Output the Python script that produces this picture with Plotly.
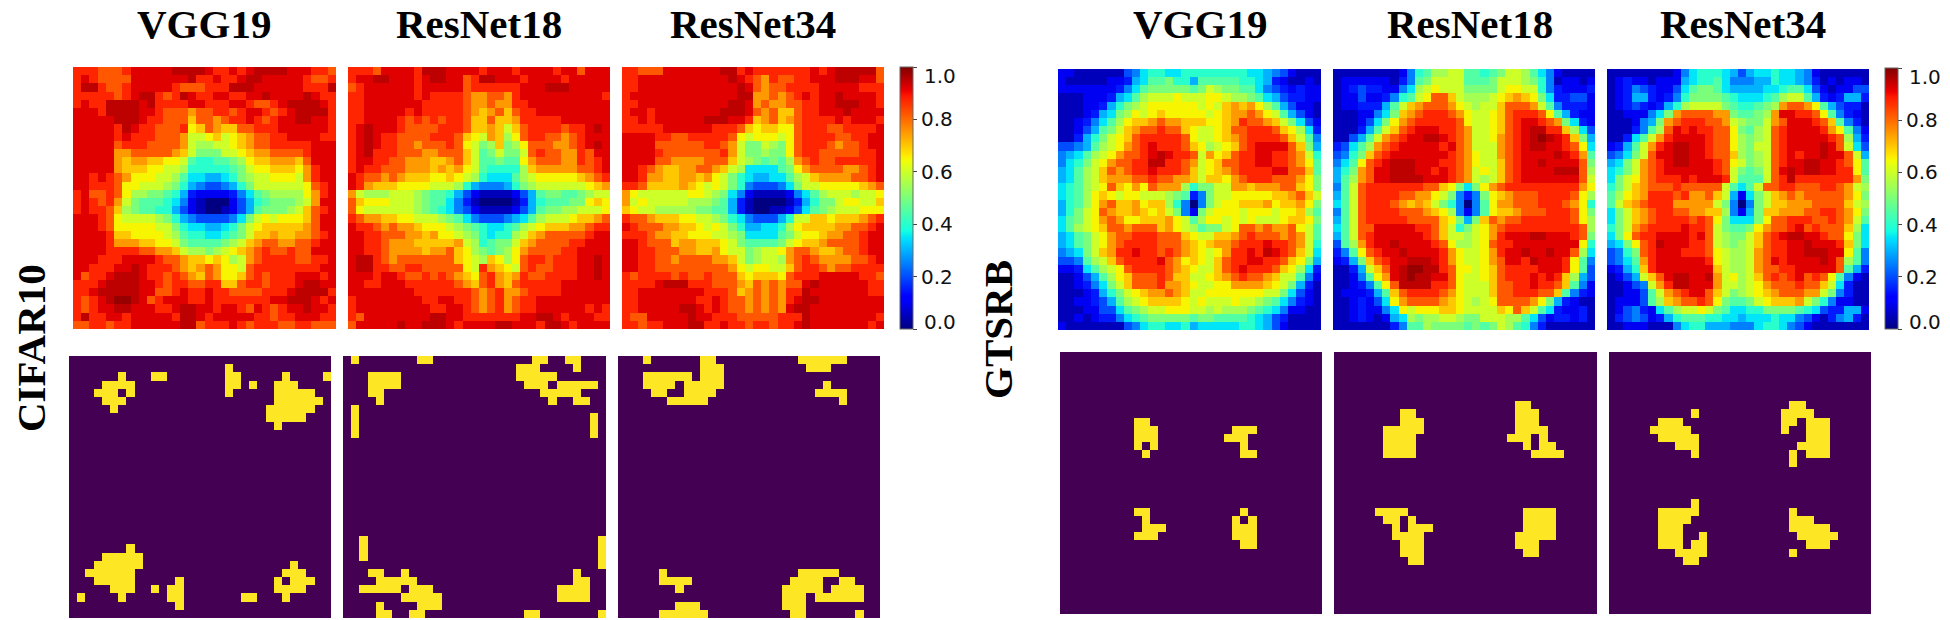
import plotly.graph_objects as go

# heat levels, a = deep blue ... u = darkest red
LEVELS = "abcdefghijklmnopqrstu"
LEVEL_VALUES = [0.0, 0.05, 0.1, 0.15, 0.2, 0.25, 0.3, 0.35, 0.4, 0.45, 0.5, 0.55, 0.6, 0.65, 0.7, 0.75,
                0.82, 0.875, 0.92, 0.95, 0.98]

CIFAR_VGG19 = [
    "rrrqqqrs sssstttt srrsrstt ttsssrrq", "rsrqqqqs sssssstr rsrrstts ssssrqqr",
    "rttrqqrs ssssrqqq rrrtttss ssssrrrt", "rrrrrqrs ttrqrtsr rssrrsst sssstsrr",
    "rsrrtttt strrrrss rrrssrqq rsttttsr", "sssrtttt ssrqqqpq qrrqrssr qrsttttr",
    "sssssttt srrqqqoq qpqrrsrq rssttssr", "sssssrts rrqqqrno qpooqqrr rssssssr",
    "sssssrsr rrqqqpmm nomnopqq rrssssrr", "sssssqrr rqqqqpml lmmnopqq rrrrrsss",
    "sssssppq qqqqpomk kkmmnopp qqqqrsss", "ssssspop poonnmji ijjklnoo pppoqsss",
    "ssssspoo onnmmlii iiijkmnn ooonprss", "ssrsrqpn nnmmljhh gghiklmm nnnmprss",
    "ssrrrqnn mmmlkigf eefgikmm mmmmnqrs", "rsqqrqnl lkkjigdc cccdfhjk llllnprs",
    "rsrqrpmk jjjihfcb aaacegij kkklmpss", "rsrrqolk jjiigecb aabcegjk kklmoqrs",
    "sssrqnmm mmlkigfe eeefhkmn mnnnoqss", "sssrqnnn nnmmkihh gghikmno oooopqss",
    "ssssroon nnnmljii hhijkmoo pooppqrs", "ssssrppp oonnmkjj jjklmopq qppqqrss",
    "ssssrrrr qqppomll klmnopqr qqrqqsss", "sssrrrss ssrqqpoo nonlmpqr rrrqqrrs",
    "ssrrrsst srrrqpop qpnnmqrr rrrrrrss", "sqrrsttt srrqrqpo qpnnoqrq rrrsssrs",
    "rrrstttt ssrqrrqq rrooqrrq rrrsttss", "rrsttttt ssqqrsrr srrqqqqr rrsttttr",
    "rqrstuut sqrsssrr srrrrrrr sstttsrs", "rqrsstts ssrrstts srssrqsr qrsstssr",
    "rtrrssrs ssssrtts rsssssrr qrrsssrr", "qqrrqrrs sssssttq rrrsrqrr rqqrrqqq",
]
CIFAR_RESNET18 = [
    "rrrqssss rtttssss rsssrsss srssqsss", "rssttsss rsttssqr ttsssrss ssrsssss",
    "qrssssss rsssssqr rrrrrsss tttsssss", "rrssssss rsrrrrqp pqqprsss sssssssr",
    "rrssssss srrrrrqp pqpprrss ssssssss", "rrsssssr srrrrrqp opqoqrrs ssssssss",
    "rrssssrq rqrqrrqo oqooprrr rrssssss", "rstsssrq qqqrrrqo opomoqrr rrqrrsts",
    "rstsrrqq qqrrrqon mpolnqrr qqpqrsss", "rstsrrqq pqqqrqnm kloklnqq qppqrsts",
    "rstrrrqq qppqqqom jkmkkmqr qqpprqss", "rssrrqqp ppoopqom jjkjjnpq qqpprqrs",
    "rsrrqqqp ppopopnm jiiiilop ppppqqrs", "srqqpqpo oonnonml ihhhjlmn nnnnopqr",
    "srpooonn nnmmmlig fffgiklm mmmmmnop", "pmlllmmm lkjjigec bbbbcegj kkjjklmm",
    "qonnnmmm lkjjhfdb aaaabdgi jjjkknon", "qnmmmmmm lkjihfec bbbbcegj kkllmmmn",
    "rqppoonn mmmlkjhf eeefghjl mmmnoopq", "srrqpqpp onnnmlkj ihhijlmn oooppqrr",
    "ssrrqqqp popnnmlk ihiilmop qqqqqrss", "ssrrqppp ooooopml ijkkmopq qqqrrsss",
    "ssrrqppp poppqonl kjklnpqq qqrrssss", "sttrqpqq qqqqqonm lonlnqrr qrrrssts",
    "sttrrqqr rqqqqqnm rponmqrq qrrrssts", "sssrssrq qrqrqpon qrpoprqq rrrrssts",
    "ssrrsssr rrrrrqpo qrpoqrrr rrssssss", "ssssssss rrrrrrrq pqrppqrr rrssssss",
    "rsssssss srrssrrq pqrpqrrs ssssssss", "rsssssss ssrrssrq pqrpqrrs sssssrsr",
    "rqssssss ssttssrr rrrrrsst tsrsssrr", "qsssssts stttsrss ssttsssr ttsrssss",
]
CIFAR_RESNET34 = [
    "rrqqqsss ssssttrs rrrrrrrs rstttttq", "rrssssss ssssstsr qprqqrrs sstttssq",
    "rrssssss ssssssts qpqqrrrr sssssrrr", "rsssssss sssssstt ppqpqrsr sstssssr",
    "rrssssss ssssstts pqppqqrr sstttssr", "rssrssss ssssttts qpqooqrr ssstssss",
    "rrsrssss sstttssr opqopqrr rrsrsssr", "rrrrrsss sssrrrqo noonnqrr rqqrrrrs",
    "ssssrrqq rrrrrqnm nnnmnqrr rrqqrrss", "ssssqqqq qqrrqpmk kmlknqrr rqpqqrss",
    "ssssrqqq qqqqrpmk klkknqrr qqqqqrrs", "ssssqqpp ppqqqoml kjkjlpqr qqrrrrrs",
    "ssrqpoop pqqpomlh hhhjknpq qqqppqrs", "ssrppoop popnmkih gghhjlmo ppppqqrs",
    "rrqoooop onmnmkif eeefhkmm nnnnnopq", "pnmmmmmm nnmlkhfc bbbbcfhj lmmmlmmn",
    "pmnmmmmm lllkjgdb aaaabdgi kkmnnmmo", "onmmllll lkkjjgdb aabbcehj klmmmnnn",
    "rqqpooon nmmlkihf eeegimmo onooopqr", "srqqqppo onmnmkig ghhilnoo ooppqqrs",
    "rrrqppoo nnnmmlkh hhhjkmnn oppqqrss", "ssrqqqop pooonmkj jjjkmnoo pqqqqrss",
    "ssrrqqqp poopnmmk lmmnpqqp oopqqrss", "ssrrqqpq qqqppomk lmmlpqrq ppppqqrs",
    "ssrrqqqq qqqqqpnm nnmmoqrr qpqqrrrr", "rqrrrrqr qqrqqqon ooonqrrr sssssrrq",
    "rrrrsttt rrrqqqpo qpqpqqst ssssssrr", "rrssssss ssrrrqop qpqprrts ssssssrr",
    "rrssssss srrsrqqp qpqprstt ssssssss", "rrssssst tsrsrqqp qpqpstts ssssssss",
    "rqqsssss tssrrrqq qqqrrrts sssssssr", "rrqrrsss ttrrsrrq rrqrrsts ssssssrs",
]
GTSRB_VGG19 = [
    "ccbbbbbb efhiihhi iiiiiiih hgfecbbb", "cbbbbbcc dghjjkii gjjjjjii hgdcbbcb",
    "cccccccd fhjkkkkk jkmlkkjj hfedcdcc", "bbbcccdg hjlmmmnm mmnnmllk jhgeddcc",
    "bbbccdgi klmnnnnn nmnmopop nljgeccb", "bbbcdghk lnmnonnn nnmnoppq pnmjgecb",
    "bbcdfhjl noopqppo oonnoprq qpomkhec", "bbcegjkm opqqrqqo nmmnoqqr rrqonlhd",
    "bbdgikmn oqrrrrrq nmmnopqr rrrqomjf", "eefgjlmn pqrsrrrq onlmnoqr ssssqokg",
    "fghjlmnp qqrstsrr qmpnoqrr ssrrqpmi", "fhikmnpq qrrttrrq pmnoqqrr ssrrqpnj",
    "ghjlmoqp qrrsrrrq omnopqrr rrssqqoj", "ghjlmopp pqqrqqpp omoonpqr rrqqqpnk",
    "hijlmnqo npnqpppl ikkmmppo pppqqonk", "hijlnonm nnmmmlkj dfkmmnnn nnoopqom",
    "gijlnpqo opnoolif afkmnnoo opnoopnk", "gikmnqpo oponomkf ckmnnnmn nnmnnolj",
    "hjkmnpqp nnooopnm jlnnmnmn mmmnoonk", "hjlmnoqq pqqqopnm ljkkmnqq pqppqnmj",
    "ghjkmnpq qrrrqqqo nmmoopqr qqqpqpmj", "ghjkmnpq rrrrqqqp onoppqrr rsrrqpmi",
    "fghkmopr rsrrqrqp onmnprrs rtsrqomh", "eefjlmoq rrrrsqpn onmoqrrs srrqonkg",
    "ccdhjlmn qrrrrqpo nmmoqrsr rrqonlhd", "bbcegjln oqqqrqoo mmnopqrq qpommjfc",
    "bbcdfhkm oqqqrppo nmmnnppp ponmkgdb", "bbbcdgik mnoppqpo mmnnnnnn nmmkhecb",
    "bbccdegj lmnoooon mnmmmnmm lkjhfdcb", "bbbcceeh jklmmnnn mmlmlllk jihfccbb",
    "bbcbcddf hijkkkkk jkkjjjji hgedbbbb", "cbbbbbbb efhiihhi ghhhhhii hgecbbbb",
]
GTSRB_RESNET18 = [
    "bbbbbbbb cfijllmm jjijkmml jhfcbbbb", "bccccccb dfjkmmmm jjjkmmml kifbccbc",
    "bcdeddcc fhlmnmmm kkkkmnnm mifdcccd", "bcceccdf ijmnqqom lllmnopo nkhddeec",
    "bccdddgj mopqqqpn mlmmoqqq pmjfdddc", "bbbccfhk opqrrrqp nmmnoqrr rqnjgdcc",
    "bbbcehkn pqrrrrrq nmmnoqrs srqpkhdc", "bbbdgjmo qrsssrrq pmmnoqrs ttrrolhe",
    "bbegjmpq rssttsrq pmmnpqrs tutsrokg", "dehjlpqr sssssrsq pmmmpqrs ttssrqnh",
    "efikoqrs ssssssrq pnmmpqrs ssstsrpj", "fhjnqrst ttsssrrq pnmmoqrs stssssqk",
    "gikpqsst ttssrsrq pmnmoqrs ssstttql", "gjlpqsst tttsssrq pmlmoqrs ssssssqm",
    "fjmqrrrr rrrqqonk hknpqrrr rrrrrrpn", "gjmqrrrr qqppnmkf dfknopqq qrrrrqnl",
    "hjmqrrrq popomkif afjnppqq qrrrqpni", "fjmqrrrr qqqponlf cfjnoopq qqrrrqnk",
    "gjmqrrrr rqqqqonk gkoqpqqr rrrrrqnl", "hjmqqsss ssrrqomi kmnpqrrr rrrrrrql",
    "gjmqrsss sssrqomm lmnprsss ttsssrqk", "ejlprsst ssssrqnl lmnqrrss ssssssni",
    "dfjnqrss tssssrpn mmnprsst sstssqlh", "cdgkoqrs stttsrpn mmnpqssr tsssrnjf",
    "bbdgmoqs tuuttrqn nmnoqrrr rsssrnje", "bbcfjnps tuttssqn mmnoqrrr srsrolge",
    "bbcdfjnq ttttrrqn mmmoqqrr srrqojfc", "bcccdgjo qrrrrqpn mmmoqqrr rqqojfdc",
    "bbcdcehn pqqqqpon mlmnqqqq pnkgdcbb", "bbcdccfh nmnnnoon mmmmonqo mjhdccdb",
    "bbcdcbcg hlkllmml kkmmmllj hecddcdb", "bbbbbbbd fjjlkkkk jkjkmlji fdbbbbbb",
]
GTSRB_RESNET34 = [
    "bbbbbbbb cfhiiihg eghhihhg fcbbbbbb", "bcdccbcc cghiijhf ffggihhg fdbcbccb",
    "bcdfedcc ehjkkjhg ggghhijj hecbccee", "bcdggdcd fikkkkji hhhijlmm jgdcdggd",
    "bcdedcdg ilmmmmkj iijklpqq pnjgeddb", "bbcccfhk pqqqqppk jjklpssr rqnjfdcb",
    "bbbcfgkp qrrrqqpm lkkmpqss srqojfdb", "bbbdfjlq srsrrqqn kjlmqrss ssrpnjfc",
    "bbdhjmpr ssssrqqn lklmqrss sssrqlgd", "cdgjmprs ttssrqqn lkmmqrss sstsqmhe",
    "efhkmqss ttssrqqo lklmqrsr sstssqmg", "ghkmpqrs ttsssrqn mklmqrss ttssrqnj",
    "hikmpqrs sssssrqm kjkmqsts ttssrrnj", "hkmnpqrr rsrsssrm jjjmqrtr rrrrrrpk",
    "ikmopqqq rqqqqqmj hjmqqrrq qqrrqpml", "jlnoprrr qrppqomg chkmopqp qqqqqpnk",
    "jmopqrrr pppppmkf afkmoopp pqqqqoml", "hkmopqrr qqppoolf cgkooppp qqrrqpnk",
    "hkmopqrr rrqrqnkh hhknqqrr rqqrqpmj", "ikmpqrrr rsrrqmkj jknpqqrs qrqqqolh",
    "hknqrrss ssrsqmlk kmoqrstt ssrqqnkh", "ghknqrts ssrrqmlk lmoqrrss tsssrokh",
    "efikqrss srrrqnml lmpqrrss tttssnjf", "efhjprss ssssrnml lmpqsrss sstsqljf",
    "cdgiorss sssssoml lmpqqrrs ssssqjgd", "bcegmoqs ttsstpmn lmoqrqrs qrqnjfcb",
    "bbcefmpr ttssspmm lmnpqqqr qqomhdbb", "bbccejmp qrssqomk lmnopqqq ppmkfdbb",
    "bcccejlo pqqrqnkj jkmnooop mkifccbb", "bcefdchj lmmnmkjh hiikkkkj iheddggc",
    "bdefecdg ijjjiihh ghhhihhf ecbdfgdb", "bbcccbbb fhiigggf ffhiihfe cbbbbbbb",
]

# trigger masks, row -> yellow columns
MASK_CIFAR_VGG19 = {
    1: [19], 2: [6, 10, 11, 19, 20, 26, 31], 3: [4, 5, 6, 7, 19, 20, 22, 25, 26, 27],
    4: [3, 4, 5, 7, 19, 25, 26, 27, 28, 29], 5: [4, 5, 6, 25, 26, 27, 28, 29, 30],
    6: [5, 24, 25, 26, 27, 28, 29], 7: [24, 25, 26, 27, 28], 8: [25],
    23: [7], 24: [4, 5, 6, 7, 8], 25: [3, 4, 5, 6, 7, 8, 27],
    26: [2, 3, 4, 5, 6, 7, 26, 27, 28], 27: [3, 4, 5, 6, 7, 13, 25, 27, 28, 29],
    28: [5, 6, 7, 10, 12, 13, 25, 26, 27, 28], 29: [1, 6, 12, 13, 21, 22, 26], 30: [13],
}
MASK_CIFAR_RESNET18 = {
    0: [1, 9, 10, 23, 24, 27, 28], 1: [21, 22, 23, 28],
    2: [3, 4, 5, 6, 21, 22, 23, 24, 25], 3: [3, 4, 5, 6, 22, 23, 24, 26, 27, 28, 29, 30],
    4: [3, 4, 24, 25, 26, 27, 28], 5: [4, 25, 28, 29], 6: [1], 7: [1, 30], 8: [1, 30], 9: [1, 30],
    22: [2, 31], 23: [2, 31], 24: [2, 31], 25: [31], 26: [3, 4, 7, 28],
    27: [4, 5, 6, 7, 8, 28, 29], 28: [2, 3, 4, 5, 6, 8, 9, 10, 26, 27, 28, 29],
    29: [7, 8, 9, 10, 11, 26, 27, 28, 29], 30: [4, 9, 10, 11], 31: [4, 5, 8, 9, 22, 23, 31],
}
MASK_CIFAR_RESNET34 = {
    0: [3, 10, 11, 22, 23, 24, 25, 26, 27], 1: [10, 11, 12, 23, 24, 25],
    2: [3, 4, 5, 6, 7, 8, 10, 11, 12], 3: [3, 4, 5, 6, 8, 9, 10, 11, 12, 25],
    4: [4, 5, 8, 9, 10, 11, 24, 25, 26, 27], 5: [6, 7, 8, 9, 10, 27],
    26: [5, 22, 23, 24, 25, 26], 27: [5, 6, 7, 8, 21, 22, 23, 24, 27, 28],
    28: [7, 20, 21, 22, 23, 24, 26, 27, 28, 29], 29: [20, 21, 22, 24, 25, 26, 27, 28, 29],
    30: [7, 8, 9, 20, 21, 22], 31: [5, 6, 7, 8, 9, 10, 21, 22, 29],
}
MASK_GTSRB_VGG19 = {
    8: [9, 10], 9: [9, 10, 11, 21, 22, 23], 10: [9, 10, 11, 20, 21, 22], 11: [9, 11, 22],
    12: [10, 22, 23], 19: [9, 10, 22], 20: [10, 21, 23], 21: [10, 11, 12, 21, 22, 23],
    22: [9, 10, 11, 21, 22, 23], 23: [22, 23],
}
MASK_GTSRB_RESNET18 = {
    6: [22, 23], 7: [8, 9, 22, 23, 24], 8: [8, 9, 10, 22, 23, 24],
    9: [6, 7, 8, 9, 10, 22, 23, 24, 25], 10: [6, 7, 8, 9, 21, 22, 23, 25],
    11: [6, 7, 8, 9, 23, 25, 26], 12: [6, 7, 8, 9, 24, 25, 26, 27],
    19: [5, 6, 7, 8, 23, 24, 25, 26], 20: [6, 7, 9, 23, 24, 25, 26],
    21: [7, 9, 10, 11, 23, 24, 25, 26], 22: [7, 8, 9, 10, 22, 23, 24, 25, 26],
    23: [8, 9, 10, 22, 23, 24], 24: [8, 9, 10, 23, 24], 25: [9, 10],
}
MASK_GTSRB_RESNET34 = {
    6: [22, 23], 7: [10, 21, 22, 23, 24], 8: [6, 7, 8, 21, 22, 24, 25, 26],
    9: [5, 6, 7, 8, 9, 21, 24, 25, 26], 10: [6, 7, 8, 9, 10, 24, 25, 26],
    11: [8, 9, 10, 23, 24, 25, 26], 12: [10, 22, 24, 25, 26], 13: [22], 18: [10],
    19: [6, 7, 8, 9, 10, 22], 20: [6, 7, 8, 9, 22, 23, 24], 21: [6, 7, 8, 22, 23, 24, 25, 26],
    22: [6, 7, 8, 11, 23, 24, 25, 26, 27], 23: [6, 7, 8, 10, 11, 24, 25, 26],
    24: [8, 9, 10, 11, 22], 25: [9, 10],
}

MODELS = ["VGG19", "ResNet18", "ResNet34"]
COLORBAR_TICKS = [0.0, 0.2, 0.4, 0.6, 0.8, 1.0]
COLORBAR_LABELS = ["", "0.2", "0.4", "0.6", "0.8", ""]

# matplotlib's jet and the two ends of viridis
JET = [
    [0.0, "rgb(0,0,128)"], [0.11, "rgb(0,0,255)"], [0.125, "rgb(0,0,255)"],
    [0.34, "rgb(0,219,255)"], [0.35, "rgb(0,229,247)"], [0.375, "rgb(20,255,226)"],
    [0.64, "rgb(238,255,8)"], [0.65, "rgb(247,246,0)"], [0.66, "rgb(255,236,0)"],
    [0.89, "rgb(255,23,0)"], [0.91, "rgb(237,0,0)"], [1.0, "rgb(128,0,0)"],
]
BINARY = [[0, "#440154"], [1, "#fde725"]]

W, H = 1950, 620
SERIF = "Liberation Serif"
SANS = "DejaVu Sans"


def heat_matrix(rows):
    matrix = []
    for row in rows:
        row = row.replace(" ", "")
        assert len(row) == 32, row
        matrix.append([LEVEL_VALUES[LEVELS.index(c)] for c in row])
    assert len(matrix) == 32
    return matrix


def mask_matrix(mask):
    return [[1 if c in mask.get(r, []) else 0 for c in range(32)] for r in range(32)]


# x0, x1, y0, y1 in page pixels
panels = [
    (CIFAR_VGG19, False, (73, 336, 67, 329)),
    (CIFAR_RESNET18, False, (348, 610, 67, 329)),
    (CIFAR_RESNET34, False, (622, 884, 67, 329)),
    (GTSRB_VGG19, False, (1058, 1321, 69, 330)),
    (GTSRB_RESNET18, False, (1333, 1595, 69, 330)),
    (GTSRB_RESNET34, False, (1607, 1869, 69, 330)),
    (MASK_CIFAR_VGG19, True, (69, 331, 356, 618)),
    (MASK_CIFAR_RESNET18, True, (343, 606, 356, 618)),
    (MASK_CIFAR_RESNET34, True, (618, 880, 356, 618)),
    (MASK_GTSRB_VGG19, True, (1060, 1322, 352, 614)),
    (MASK_GTSRB_RESNET18, True, (1334, 1597, 352, 614)),
    (MASK_GTSRB_RESNET34, True, (1609, 1871, 352, 614)),
]
colorbars = {2: (900, 67, 329), 5: (1885, 68, 329)}

fig = go.Figure()
layout = {}
for i, (values, is_mask, (x0, x1, y0, y1)) in enumerate(panels):
    n = "" if i == 0 else str(i + 1)
    trace = dict(
        z=mask_matrix(values) if is_mask else heat_matrix(values),
        colorscale=BINARY if is_mask else JET,
        zmin=0, zmax=1, zsmooth=False, hoverinfo="skip",
        xaxis="x" + n, yaxis="y" + n, showscale=False,
    )
    if i in colorbars:
        bx, by0, by1 = colorbars[i]
        trace["showscale"] = True
        trace["colorbar"] = dict(
            x=bx / W, xanchor="left", xpad=0, y=1 - by1 / H, yanchor="bottom", ypad=0,
            len=(by1 - by0) / H, lenmode="fraction", thickness=13, thicknessmode="pixels",
            tickmode="array", tickvals=COLORBAR_TICKS, ticktext=COLORBAR_LABELS,
            ticks="outside", ticklen=4, tickwidth=1, tickcolor="#444",
            tickfont=dict(family=SANS, size=20, color="#111"),
            outlinecolor="#666", outlinewidth=1,
        )
    fig.add_trace(go.Heatmap(**trace))
    layout["xaxis" + n] = dict(domain=[x0 / W, x1 / W], range=[-0.5, 31.5], visible=False, anchor="y" + n)
    layout["yaxis" + n] = dict(domain=[1 - y1 / H, 1 - y0 / H], range=[31.5, -0.5], visible=False, anchor="x" + n)

fig.update_layout(
    width=W, height=H, margin=dict(l=0, r=0, t=0, b=0),
    paper_bgcolor="white", plot_bgcolor="white", showlegend=False, **layout,
)

title_font = dict(family=SERIF, size=41, color="black")
for model, cx in zip(MODELS * 2, [204, 479, 753, 1200, 1470, 1743]):
    fig.add_annotation(text="<b>%s</b>" % model, x=cx / W, y=1 - 24 / H, xref="paper", yref="paper",
                       showarrow=False, font=title_font, xanchor="center", yanchor="middle")
for label, cx, cy in [("CIFAR10", 31, 348), ("GTSRB", 998, 330)]:
    fig.add_annotation(text="<b>%s</b>" % label, x=cx / W, y=1 - cy / H, xref="paper", yref="paper",
                       showarrow=False, font=title_font, textangle=-90, xanchor="center", yanchor="middle")

# end labels sit inside the bar length in the reference
for bx, by0, by1 in colorbars.values():
    for text, ly in [("1.0", by0 + 9), ("0.0", by1 - 7)]:
        fig.add_annotation(text=text, x=(bx + 22) / W, y=1 - ly / H, xref="paper", yref="paper",
                           showarrow=False, xanchor="left", yanchor="middle", xshift=0,
                           font=dict(family=SANS, size=20, color="#111"))

fig.write_html("out.html", config={"displayModeBar": False},
               post_script="document.body.style.margin='0';document.body.style.overflow='hidden';")
